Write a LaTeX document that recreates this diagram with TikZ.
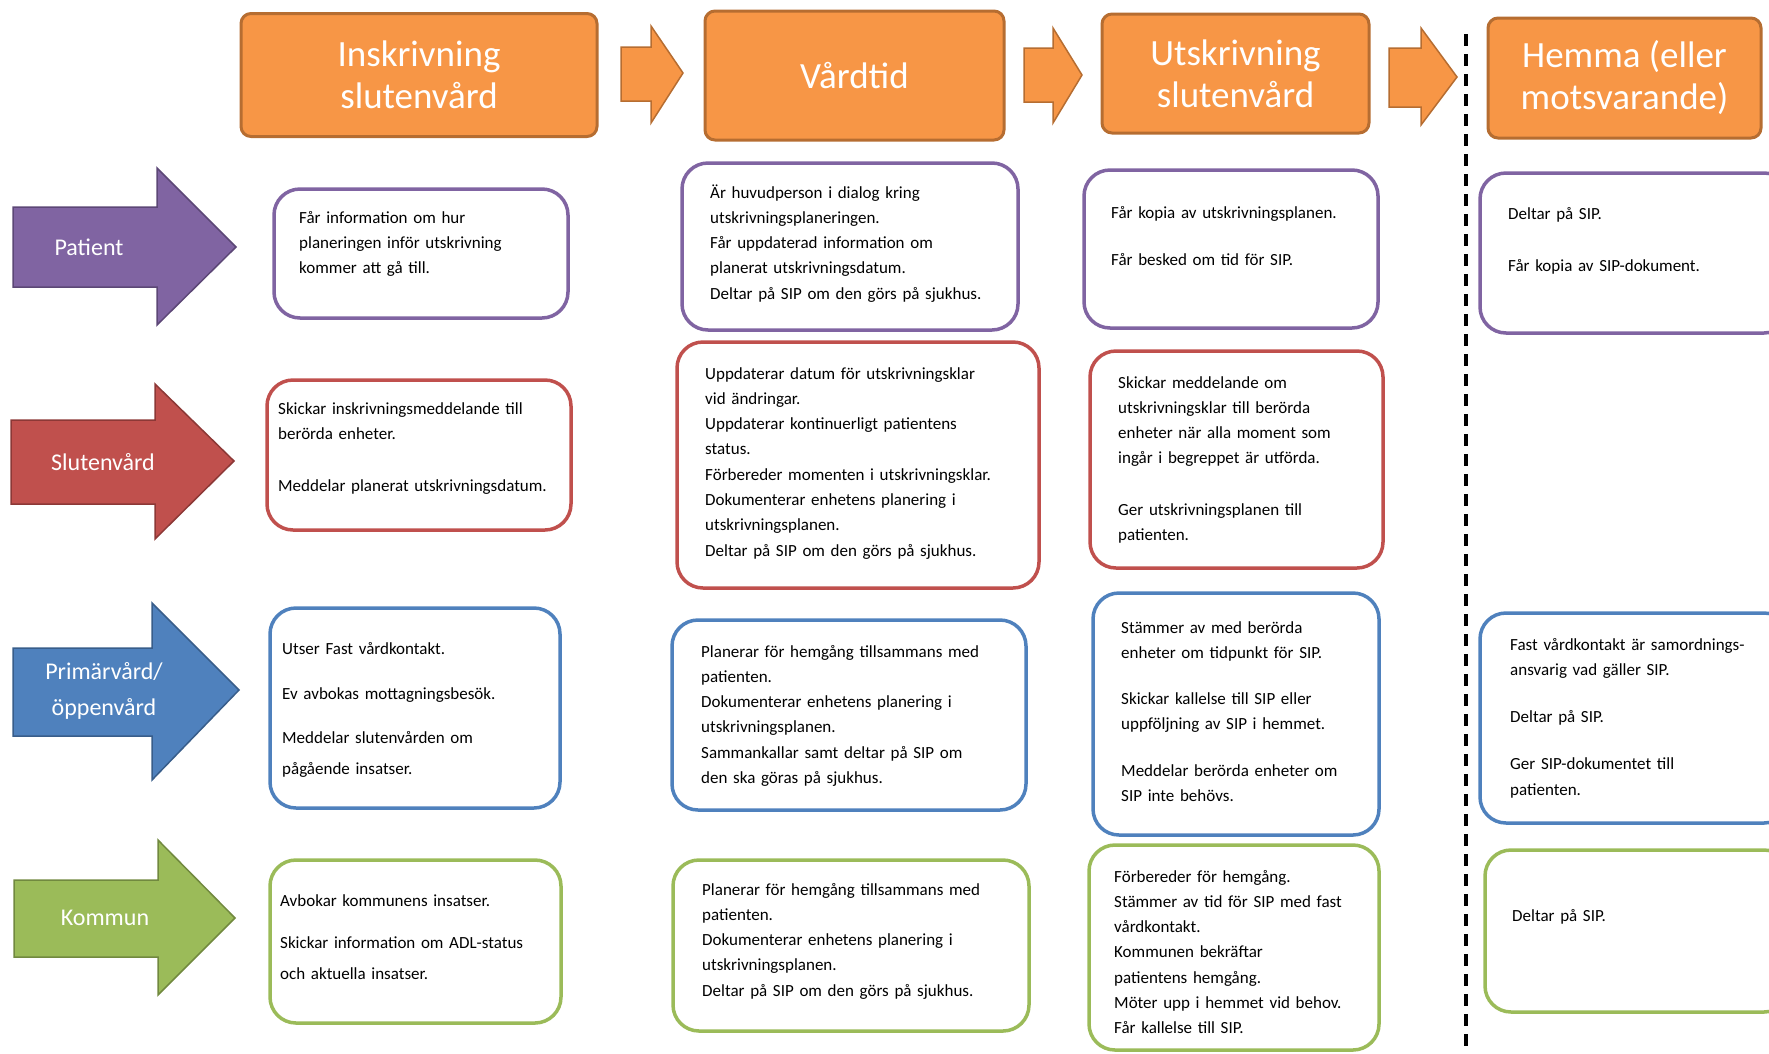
\documentclass[tikz,border=0pt]{standalone}
\usepackage{fontspec}
\setmainfont{Carlito}
\usepackage{tikz}
\usetikzlibrary{positioning}
\usepackage{xcolor}

\definecolor{hdOrange}{HTML}{F79646}
\definecolor{hdOrangeD}{HTML}{B66D31}
\definecolor{pPurple}{HTML}{8064A2}
\definecolor{pPurpleD}{HTML}{5C4776}
\definecolor{sRed}{HTML}{C0504D}
\definecolor{sRedD}{HTML}{8C3836}
\definecolor{oBlue}{HTML}{4F81BD}
\definecolor{oBlueD}{HTML}{385D8A}
\definecolor{kGreen}{HTML}{9BBB59}
\definecolor{kGreenD}{HTML}{71893F}

\tikzset{
  header/.style={fill=hdOrange, draw=hdOrangeD, line width=3pt, rounded corners=10pt,
    text=white, align=center, font=\fontsize{37}{42}\selectfont},
  hdarrow/.style={fill=hdOrange, draw=hdOrangeD, line width=1.5pt},
  actor/.style={text=white, align=center, font=\fontsize{24}{36}\selectfont},
  infobox/.style={fill=white, line width=3.5pt, rounded corners=26pt},
  txt/.style={anchor=base west, inner sep=0pt, text width=340pt, align=left,
    font=\fontsize{17}{25.3}\selectfont},
  divider/.style={black, line width=3.2pt, dash pattern=on 12pt off 8pt}
}

\begin{document}
\begin{tikzpicture} [x=1pt, y=-1pt]
	\useasboundingbox (0,0) rectangle (1769,1053);

	% faser
	\node [header, minimum width=356pt, minimum height=123pt] (hdInskr) at (419,75) {Inskrivning\\slutenvård};
	\node [header, minimum width=299pt, minimum height=129pt] (hdVard) at (854.5,75.5) {Vårdtid};
	\node [header, minimum width=267pt, minimum height=119pt] (hdUtskr) at (1235.5,73.5) {Utskrivning\\slutenvård};
	\node [header, minimum width=273pt, minimum height=120pt] (hdHemma) at (1624.5,78) {Hemma (eller\\motsvarande)};

	\filldraw [hdarrow] (621,47)--(651,47)--(651,26)--(683,73)--(651,123)--(651,101)--(621,101)--cycle;
	\filldraw [hdarrow] (1024,48)--(1053,48)--(1053,28)--(1082,75)--(1053,123)--(1053,102)--(1024,102)--cycle;
	\filldraw [hdarrow] (1389,48)--(1421,48)--(1421,28)--(1457,77)--(1421,125)--(1421,107)--(1389,107)--cycle;

	\draw [divider] (1466,34)--(1466,1053);

	% aktorer
	\filldraw [fill=pPurple, draw=pPurpleD, line width=1.5pt] (13,207)--(157,207)--(157,168)--(236,247)--(157,325)--(157,287)--(13,287)--cycle;
	\node [actor] (lbPatient) at (89,247) {Patient};

	\filldraw [fill=sRed, draw=sRedD, line width=1.5pt] (11,420)--(155,420)--(155,384)--(234,461)--(155,539)--(155,504)--(11,504)--cycle;
	\node [actor] (lbSluten) at (103,462) {Slutenvård};

	\filldraw [fill=oBlue, draw=oBlueD, line width=1.5pt] (13,648)--(152,648)--(152,603)--(239,690)--(152,780)--(152,736)--(13,736)--cycle;
	\node [actor] (lbPrimar) at (104,691) {Primärvård/\\öppenvård};

	\filldraw [fill=kGreen, draw=kGreenD, line width=1.5pt] (14,880)--(158,880)--(158,840)--(235,918)--(158,995)--(158,957)--(14,957)--cycle;
	\node [actor] (lbKommun) at (105,918) {Kommun};

	% patient
	\draw [infobox, draw=pPurple] (274,189) rectangle (568,318);
	\node [txt] (txPat1) at (299,223) {Får information om hur\\planeringen inför utskrivning\\kommer att gå till.};

	\draw [infobox, draw=pPurple] (682,163) rectangle (1018,330);
	\node [txt] (txPat2) at (710,198) {Är huvudperson i dialog kring\\utskrivningsplaneringen.\\Får uppdaterad information om\\planerat utskrivningsdatum.\\Deltar på SIP om den görs på sjukhus.};

	\draw [infobox, draw=pPurple] (1084,170) rectangle (1378,328);
	\node [txt] (txPat3) at (1111,218) {Får kopia av utskrivningsplanen.\\[22pt]Får besked om tid för SIP.};

	\draw [infobox, draw=pPurple] (1480,173) rectangle (1790,333);
	\node [txt] (txPat4) at (1508,219) {Deltar på SIP.\\[27pt]Får kopia av SIP-dokument.};

	% slutenvard
	\draw [infobox, draw=sRed] (267,380) rectangle (571,530);
	\node [txt] (txSlu1) at (278,414) {Skickar inskrivningsmeddelande till\\berörda enheter.\\[27pt]Meddelar planerat utskrivningsdatum.};

	\draw [infobox, draw=sRed] (677,342) rectangle (1039,588);
	\node [txt] (txSlu2) at (705,379) {Uppdaterar datum för utskrivningsklar\\vid ändringar.\\Uppdaterar kontinuerligt patientens\\status.\\Förbereder momenten i utskrivningsklar.\\Dokumenterar enhetens planering i\\utskrivningsplanen.\\Deltar på SIP om den görs på sjukhus.};

	\draw [infobox, draw=sRed] (1090,351) rectangle (1383,568);
	\node [txt] (txSlu3) at (1118,388) {Skickar meddelande om\\utskrivningsklar till berörda\\enheter när alla moment som\\ingår i begreppet är utförda.\\[26pt]Ger utskrivningsplanen till\\patienten.};

	% primarvard
	\draw [infobox, draw=oBlue] (270,608) rectangle (560,808);
	\node [txt] (txPrim1) at (282,654) {Utser Fast vårdkontakt.\\[20pt]Ev avbokas mottagningsbesök.\\[19pt]Meddelar slutenvården om\\[6pt]pågående insatser.};

	\draw [infobox, draw=oBlue] (672,620) rectangle (1026,810);
	\node [txt] (txPrim2) at (701,657) {Planerar för hemgång tillsammans med\\patienten.\\Dokumenterar enhetens planering i\\utskrivningsplanen.\\Sammankallar samt deltar på SIP om\\den ska göras på sjukhus.};

	\draw [infobox, draw=oBlue] (1093,593) rectangle (1379,835);
	\node [txt] (txPrim3) at (1121,633) {Stämmer av med berörda\\enheter om tidpunkt för SIP.\\[21pt]Skickar kallelse till SIP eller\\uppföljning av SIP i hemmet.\\[21pt]Meddelar berörda enheter om\\SIP inte behövs.};

	\draw [infobox, draw=oBlue] (1480,613) rectangle (1790,823);
	\node [txt] (txPrim4) at (1510,650) {Fast vårdkontakt är samordnings-\\ansvarig vad gäller SIP.\\[22pt]Deltar på SIP.\\[22pt]Ger SIP-dokumentet till\\patienten.};

	% kommun
	\draw [infobox, draw=kGreen] (270,860) rectangle (561,1023);
	\node [txt] (txKom1) at (280,906) {Avbokar kommunens insatser.\\[17pt]Skickar information om ADL-status\\[6pt]och aktuella insatser.};

	\draw [infobox, draw=kGreen] (673,860) rectangle (1029,1031);
	\node [txt] (txKom2) at (702,895) {Planerar för hemgång tillsammans med\\patienten.\\Dokumenterar enhetens planering i\\utskrivningsplanen.\\Deltar på SIP om den görs på sjukhus.};

	\draw [infobox, draw=kGreen] (1089,845) rectangle (1379,1050);
	\node [txt] (txKom3) at (1114,882) {Förbereder för hemgång.\\Stämmer av tid för SIP med fast\\vårdkontakt.\\Kommunen bekräftar\\patientens hemgång.\\Möter upp i hemmet vid behov.\\Får kallelse till SIP.};

	\draw [infobox, draw=kGreen] (1485,850) rectangle (1790,1012);
	\node [txt] (txKom4) at (1512,921) {Deltar på SIP.};

\end{tikzpicture}
\end{document}
